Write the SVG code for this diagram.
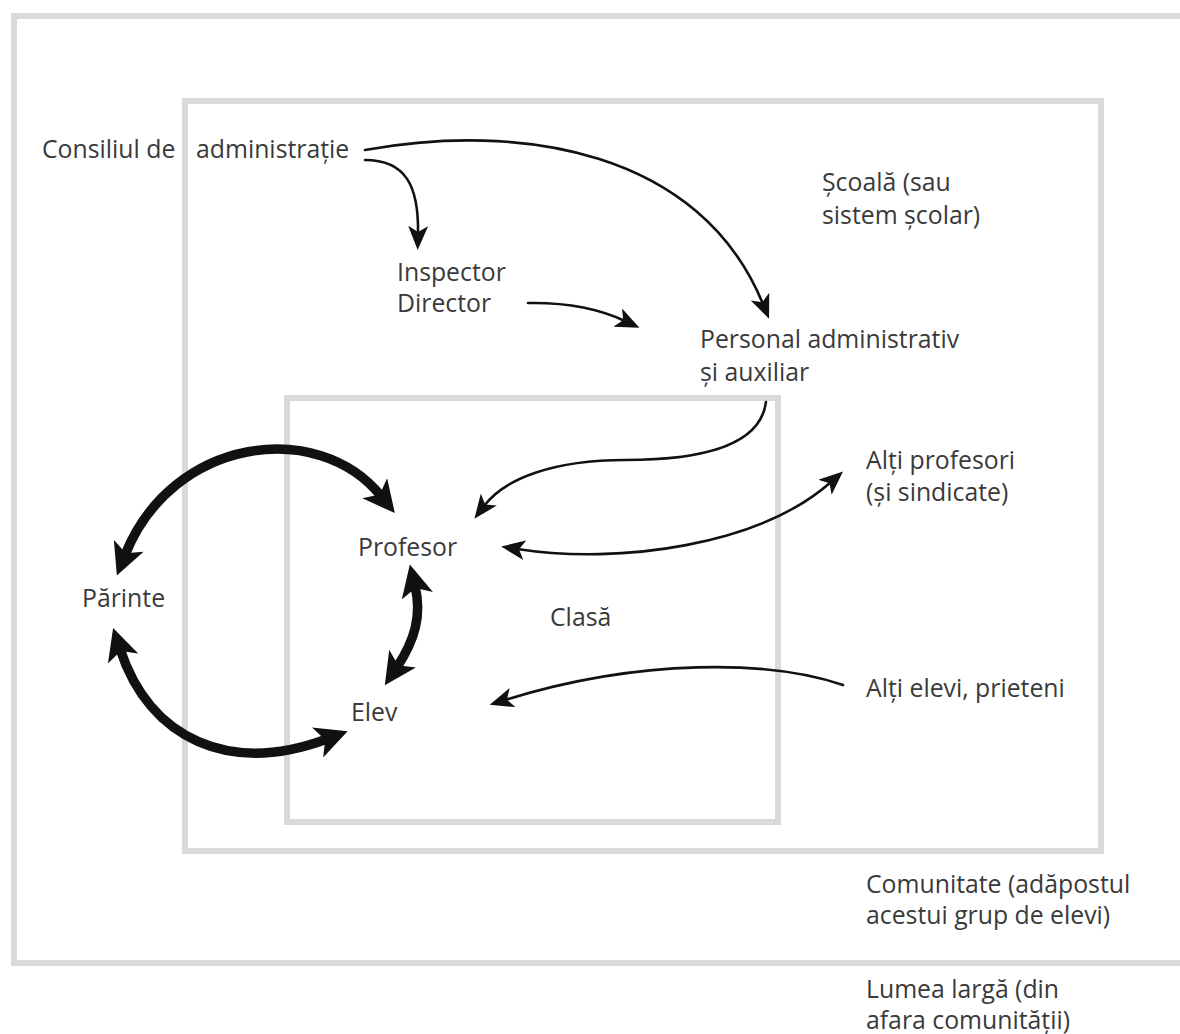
<svg xmlns="http://www.w3.org/2000/svg" width="1180" height="1034" viewBox="0 0 1180 1034">
  <style>
    .frame { fill: none; stroke: #d9d9d9; stroke-width: 6; }
    .lbl { font-family: "Open Sans", "Noto Sans", "DejaVu Sans", sans-serif; font-size: 24.8px; fill: #3a3a3a; }
    .thin { fill: none; stroke: #111; stroke-width: 2.6; stroke-linecap: round; }
    .thick { fill: none; stroke: #111; stroke-width: 9.5; }
  </style>
  <defs>
    <marker id="ah" markerUnits="userSpaceOnUse" viewBox="0 0 24 20" refX="8" refY="10" markerWidth="24" markerHeight="20" orient="auto-start-reverse">
      <path d="M0,0 L24,10 L0,20 L6,10 Z" fill="#111"/>
    </marker>
    <marker id="ahb" markerUnits="userSpaceOnUse" viewBox="0 0 32 32" refX="10" refY="16" markerWidth="32" markerHeight="32" orient="auto-start-reverse">
      <path d="M0,0 L32,16 L0,32 L8,16 Z" fill="#111"/>
    </marker>
  </defs>

  <rect width="1180" height="1034" fill="#fff"/>

  <!-- nested context frames -->
  <g id="frames">
    <rect id="world" class="frame" x="14" y="16" width="1200" height="947"/>
    <rect id="school" class="frame" x="185" y="101" width="916" height="750"/>
    <rect id="classroom" class="frame" x="287" y="398" width="491" height="424"/>
  </g>

  <g id="connectors">
    <path class="thin" d="M365,160 C405,160 419,185 418,234" marker-end="url(#ah)"/>
    <path class="thin" d="M365,150 C520,122 700,150 763,304" marker-end="url(#ah)"/>
    <path class="thin" d="M528,303 Q585,302 625,321" marker-end="url(#ah)"/>
    <path class="thin" d="M766,402 C760,450 690,460 625,460 C555,460 505,478 484,506" marker-end="url(#ah)"/>
    <path class="thin" d="M517,549 C620,565 760,545 831,482" marker-start="url(#ah)" marker-end="url(#ah)"/>
    <path class="thin" d="M843,685 C770,660 640,658 505,700" marker-end="url(#ah)"/>
    <path class="thick" d="M125,555 C172,437 318,418 381,496" marker-start="url(#ahb)" marker-end="url(#ahb)"/>
    <path class="thick" d="M120,649 C150,740 230,775 327,739" marker-start="url(#ahb)" marker-end="url(#ahb)"/>
    <path class="thick" d="M415,586 C422,615 415,640 397,667" marker-start="url(#ahb)" marker-end="url(#ahb)"/>
  </g>

  <g id="n-consiliu"><text class="lbl" x="42" y="158">Consiliul de</text><text class="lbl" x="196" y="158">administrație</text></g>
  <g id="n-inspector"><text class="lbl" x="397" y="281">Inspector</text><text class="lbl" x="397" y="312">Director</text></g>
  <g id="n-personal"><text class="lbl" x="700" y="348">Personal administrativ</text><text class="lbl" x="700" y="381">și auxiliar</text></g>
  <g id="n-scoala"><text class="lbl" x="822" y="191">Școală (sau</text><text class="lbl" x="822" y="224">sistem școlar)</text></g>
  <g id="n-alti-profesori"><text class="lbl" x="866" y="469">Alți profesori</text><text class="lbl" x="866" y="501">(și sindicate)</text></g>
  <g id="n-profesor"><text class="lbl" x="358" y="556">Profesor</text></g>
  <g id="n-parinte"><text class="lbl" x="82" y="607">Părinte</text></g>
  <g id="n-clasa"><text class="lbl" x="550" y="626">Clasă</text></g>
  <g id="n-elev"><text class="lbl" x="351" y="721">Elev</text></g>
  <g id="n-alti-elevi"><text class="lbl" x="866" y="697">Alți elevi, prieteni</text></g>
  <g id="n-comunitate"><text class="lbl" x="866" y="893">Comunitate (adăpostul</text><text class="lbl" x="866" y="924">acestui grup de elevi)</text></g>
  <g id="n-lume"><text class="lbl" x="866" y="998">Lumea largă (din</text><text class="lbl" x="866" y="1029">afara comunității)</text></g>
</svg>
